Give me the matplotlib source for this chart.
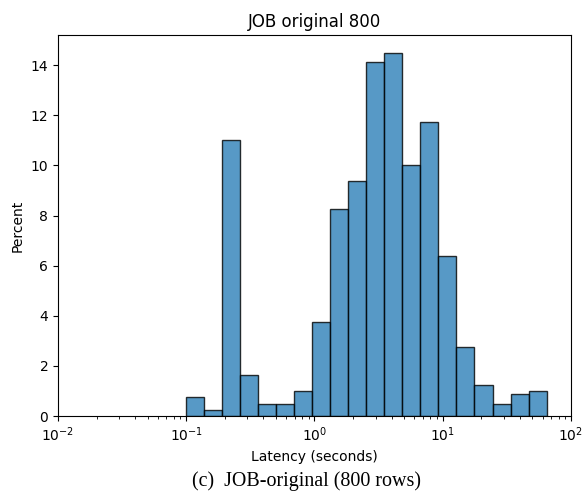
import numpy as np
import matplotlib
matplotlib.use("Agg")
import matplotlib.pyplot as plt

# ========================
# DATA
# ========================

# latency range covered by the histogram (seconds), 20 log-spaced bins
bin_lo = 0.1
bin_hi = 64.5
n_bins = 20

percent = [0.75, 0.25, 11.0, 1.625, 0.5, 0.5, 1.0, 3.75, 8.25, 9.375,
           14.125, 14.5, 10.0, 11.75, 6.375, 2.75, 1.25, 0.5, 0.875, 1.0]

title = "JOB original 800"
xlabel = "Latency (seconds)"
ylabel = "Percent"
caption = "(c)  JOB-original (800 rows)"

# ========================
# PLOT
# ========================

edges = np.logspace(np.log10(bin_lo), np.log10(bin_hi), n_bins + 1)

fig = plt.figure(figsize=(5.84, 4.93), dpi=100)
ax = fig.add_axes([0.0993, 0.156, 0.8784, 0.773])

ax.bar(edges[:-1], percent, width=np.diff(edges), align="edge",
       color=(0.122, 0.467, 0.706, 0.75),
       edgecolor=(0, 0, 0, 0.8), linewidth=1.0)

ax.set_xscale("log")
ax.set_xlim(1e-2, 1e2)
ax.set_ylim(0, 15.2)
ax.set_yticks(range(0, 15, 2))

ax.set_title(title, fontsize=12)
ax.set_xlabel(xlabel, fontsize=10)
ax.set_ylabel(ylabel, fontsize=10)

fig.text(0.525, 0.015, caption, ha="center", va="baseline",
         family="Liberation Serif", fontsize=14.4)

fig.savefig("out.png", dpi=100)
